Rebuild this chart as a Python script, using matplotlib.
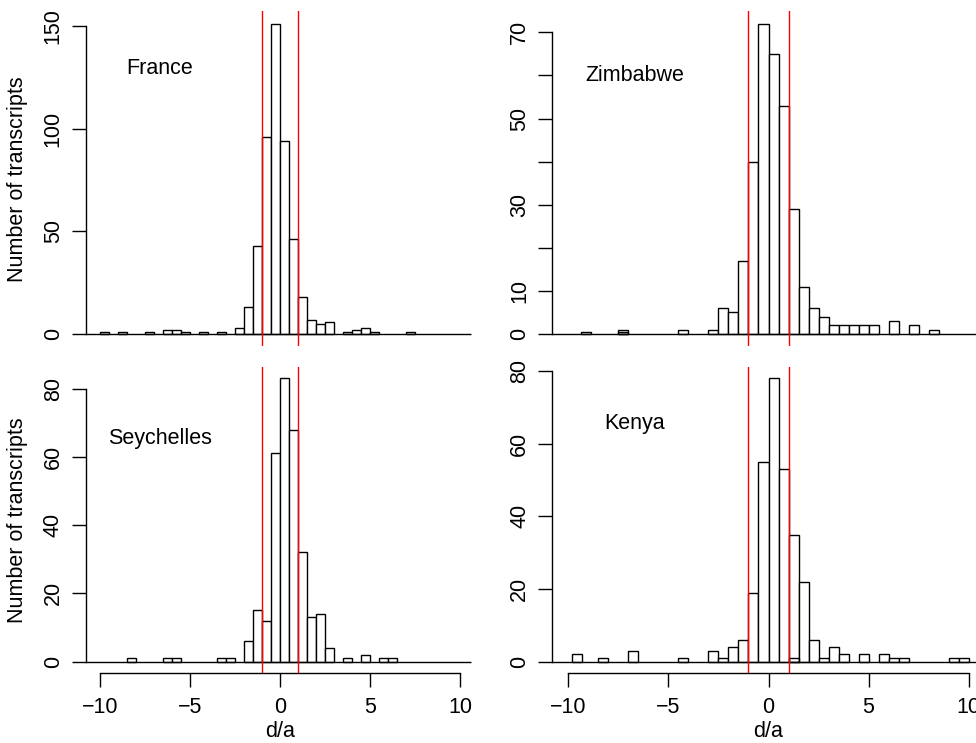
import matplotlib.pyplot as plt

plt.rcParams['font.family'] = ['Liberation Sans', 'DejaVu Sans']
plt.rcParams['font.size'] = 15.5

# histogram bins are 0.5 wide; left edge of each bin and its count
france_left = [-10, -9, -7.5, -6.5, -6, -5.5, -4.5, -3.5, -2.5, -2, -1.5, -1,
               -0.5, 0, 0.5, 1, 1.5, 2, 2.5, 3.5, 4, 4.5, 5, 7]
france_count = [1, 1, 1, 2, 2, 1, 1, 1, 3, 13, 43, 96,
                151, 94, 46, 18, 7, 5, 6, 1, 2, 3, 1, 1]

zimbabwe_left = [-9.35, -7.5, -4.5, -3, -2.5, -2, -1.5, -1, -0.5, 0, 0.5, 1,
                 1.5, 2, 2.5, 3, 3.5, 4, 4.5, 5, 6, 7, 8]
zimbabwe_count = [0.5, 1, 1, 1, 6, 5, 17, 40, 72, 65, 53, 29,
                  11, 6, 4, 2, 2, 2, 2, 2, 3, 2, 1]
zimbabwe_inner_left = [-7.5]
zimbabwe_inner_count = [0.5]

seychelles_left = [-8.5, -6.5, -6, -3.5, -3, -2, -1.5, -1, -0.5, 0, 0.5, 1,
                   1.5, 2, 2.5, 3.5, 4.5, 5.5, 6]
seychelles_count = [1, 1, 1, 1, 1, 6, 15, 12, 61, 83, 68, 32,
                    13, 14, 4, 1, 2, 1, 1]

kenya_left = [-9.8, -8.5, -7, -4.5, -3, -2.5, -2, -1.5, -1, -0.5, 0, 0.5,
              1, 1.5, 2, 2.5, 3, 3.5, 4.5, 5.5, 6, 6.5, 9, 9.5]
kenya_count = [2, 1, 3, 1, 3, 1, 4, 6, 19, 55, 78, 53,
               35, 22, 6, 1, 4, 2, 2, 2, 1, 1, 1, 1]
kenya_inner_left = [1]
kenya_inner_count = [1]

cutoffs = [-1, 1]
x_ticks = [-10, -5, 0, 5, 10]

W, H = 976, 743
fig = plt.figure(figsize=(W / 100, H / 100), dpi=100)


def box(x0, x1, top, bottom):
    # plot region given in pixels
    return [x0 / W, 1 - bottom / H, (x1 - x0) / W, (bottom - top) / H]


panels = [
    ("France", france_left, france_count, [], [],
     box(86, 474.6, 11.3, 346.4), [0, 50, 100, 150], None, 129, True, False),
    ("Zimbabwe", zimbabwe_left, zimbabwe_count, zimbabwe_inner_left, zimbabwe_inner_count,
     box(552.3, 984.7, 11.3, 346.4), list(range(0, 80, 10)),
     ["0", "10", "", "30", "", "50", "", "70"], 60, False, False),
    ("Seychelles", seychelles_left, seychelles_count, [], [],
     box(86, 474.6, 367, 673), [0, 20, 40, 60, 80], None, 65.5, True, True),
    ("Kenya", kenya_left, kenya_count, kenya_inner_left, kenya_inner_count,
     box(552.3, 984.7, 367, 673), [0, 20, 40, 60, 80], None, 65.5, False, True),
]

for name, left, count, in_left, in_count, rect, yt, ytl, label_y, first_col, bottom_row in panels:
    ax = fig.add_axes(rect)
    ax.bar(left, count, width=0.5, align='edge', color='white',
           edgecolor='black', linewidth=1.0, zorder=2)
    if in_left:
        ax.bar(in_left, in_count, width=0.5, align='edge', fill=False,
               edgecolor='black', linewidth=1.0, zorder=3)
    ax.hlines(0, -10.8, 10.6, color='black', linewidth=1.0, zorder=3)
    for c in cutoffs:
        ax.axvline(c, color='red', linewidth=1.0, zorder=4)

    top = max(count)
    ax.set_xlim(-10.8, 10.8)
    ax.set_ylim(-0.04 * top, 1.04 * top)

    for s in ['top', 'right']:
        ax.spines[s].set_visible(False)
    ax.spines['left'].set_bounds(0, yt[-1])
    ax.spines['left'].set_linewidth(1.0)
    ax.set_yticks(yt)
    ax.set_yticklabels(ytl if ytl else [str(v) for v in yt], rotation=90, va='center')
    ax.tick_params(axis='y', direction='out', length=10, width=1.0, pad=6)

    if bottom_row:
        ax.spines['bottom'].set_bounds(-10, 10)
        ax.spines['bottom'].set_linewidth(1.0)
        ax.set_xticks(x_ticks)
        ax.tick_params(axis='x', direction='out', length=10, width=1.0, pad=7)
        ax.set_xlabel("d/a")
        ax.xaxis.set_label_coords(0.5, -0.158)
    else:
        ax.spines['bottom'].set_visible(False)
        ax.tick_params(axis='x', bottom=False, labelbottom=False)

    if first_col:
        ax.set_ylabel("Number of transcripts")
        ax.yaxis.set_label_coords(-0.148, 0.5)

    ax.text(-6.7, label_y, name, ha='center', va='center')

fig.savefig("out.png", dpi=100)
